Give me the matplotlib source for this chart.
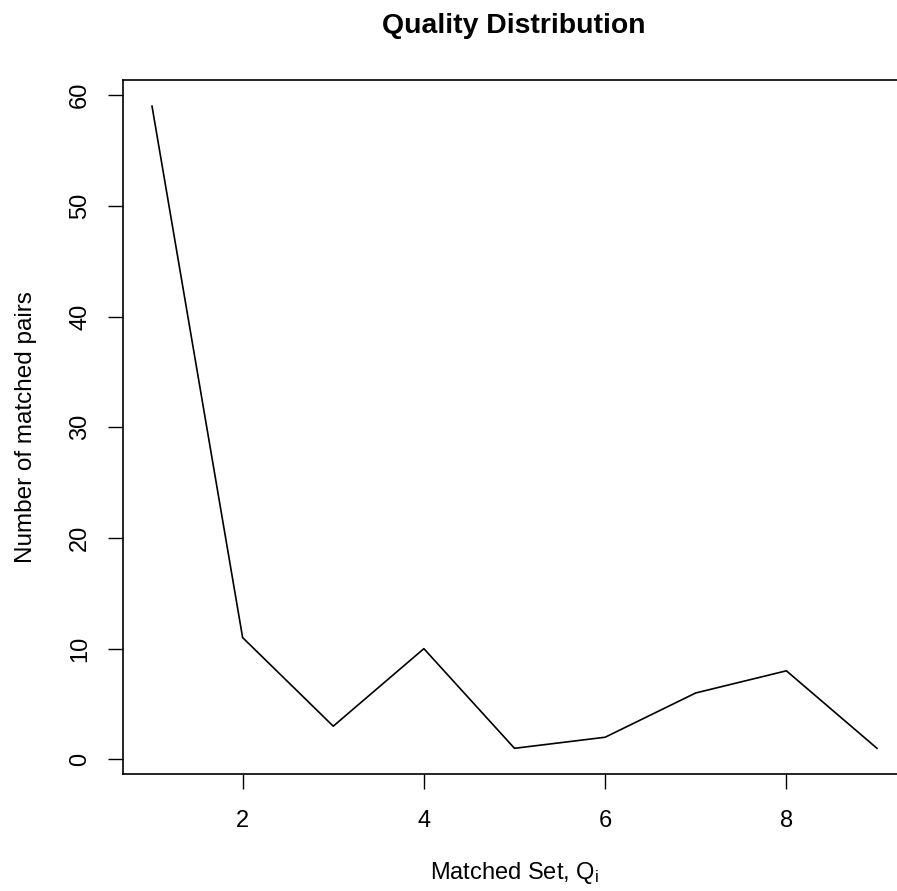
import matplotlib
matplotlib.use("Agg")
import matplotlib.pyplot as plt

x_values = [1, 2, 3, 4, 5, 6, 7, 8, 9]
pair_counts = [59, 11, 3, 10, 1, 2, 6, 8, 1]
x_ticks = [2, 4, 6, 8]
y_ticks = [0, 10, 20, 30, 40, 50, 60]

plt.rcParams['font.family'] = ['Liberation Sans', 'DejaVu Sans']
plt.rcParams['mathtext.fontset'] = 'custom'
plt.rcParams['mathtext.rm'] = 'Liberation Sans'
plt.rcParams['mathtext.it'] = 'Liberation Sans'

W, H = 897, 891
fig = plt.figure(figsize=(W / 100, H / 100), dpi=100)
ax = fig.add_axes([123 / W, (H - 774) / H, (906 - 123) / W, (774 - 80) / H])

ax.plot(x_values, pair_counts, color='black', lw=1.2)

ax.set_xlim(0.68, 9.32)
ax.set_ylim(-1.32, 61.36)
ax.set_xticks(x_ticks)
ax.set_yticks(y_ticks)
ax.set_xticklabels([str(t) for t in x_ticks])
ax.set_yticklabels([str(t) for t in y_ticks], rotation=90, va='center')

for s in ax.spines.values():
    s.set_linewidth(1.2)
    s.set_color('black')

ax.tick_params(axis='both', direction='out', length=11, width=1.0,
               labelsize=17, colors='black')
ax.tick_params(axis='x', pad=14.8)
ax.tick_params(axis='y', pad=12)

ax.set_xlabel('Matched Set, Q$_{\\mathrm{i}}$', fontsize=17)
ax.xaxis.set_label_coords(0.5, -0.124)
ax.set_ylabel('Number of matched pairs', fontsize=17.5)
ax.yaxis.set_label_coords(-0.1096, 0.5)

fig.text(513.5 / W, 1 - 33 / H, 'Quality Distribution', ha='center',
         va='baseline', fontsize=20.4, fontweight='bold')

fig.savefig('out.png', dpi=100)
